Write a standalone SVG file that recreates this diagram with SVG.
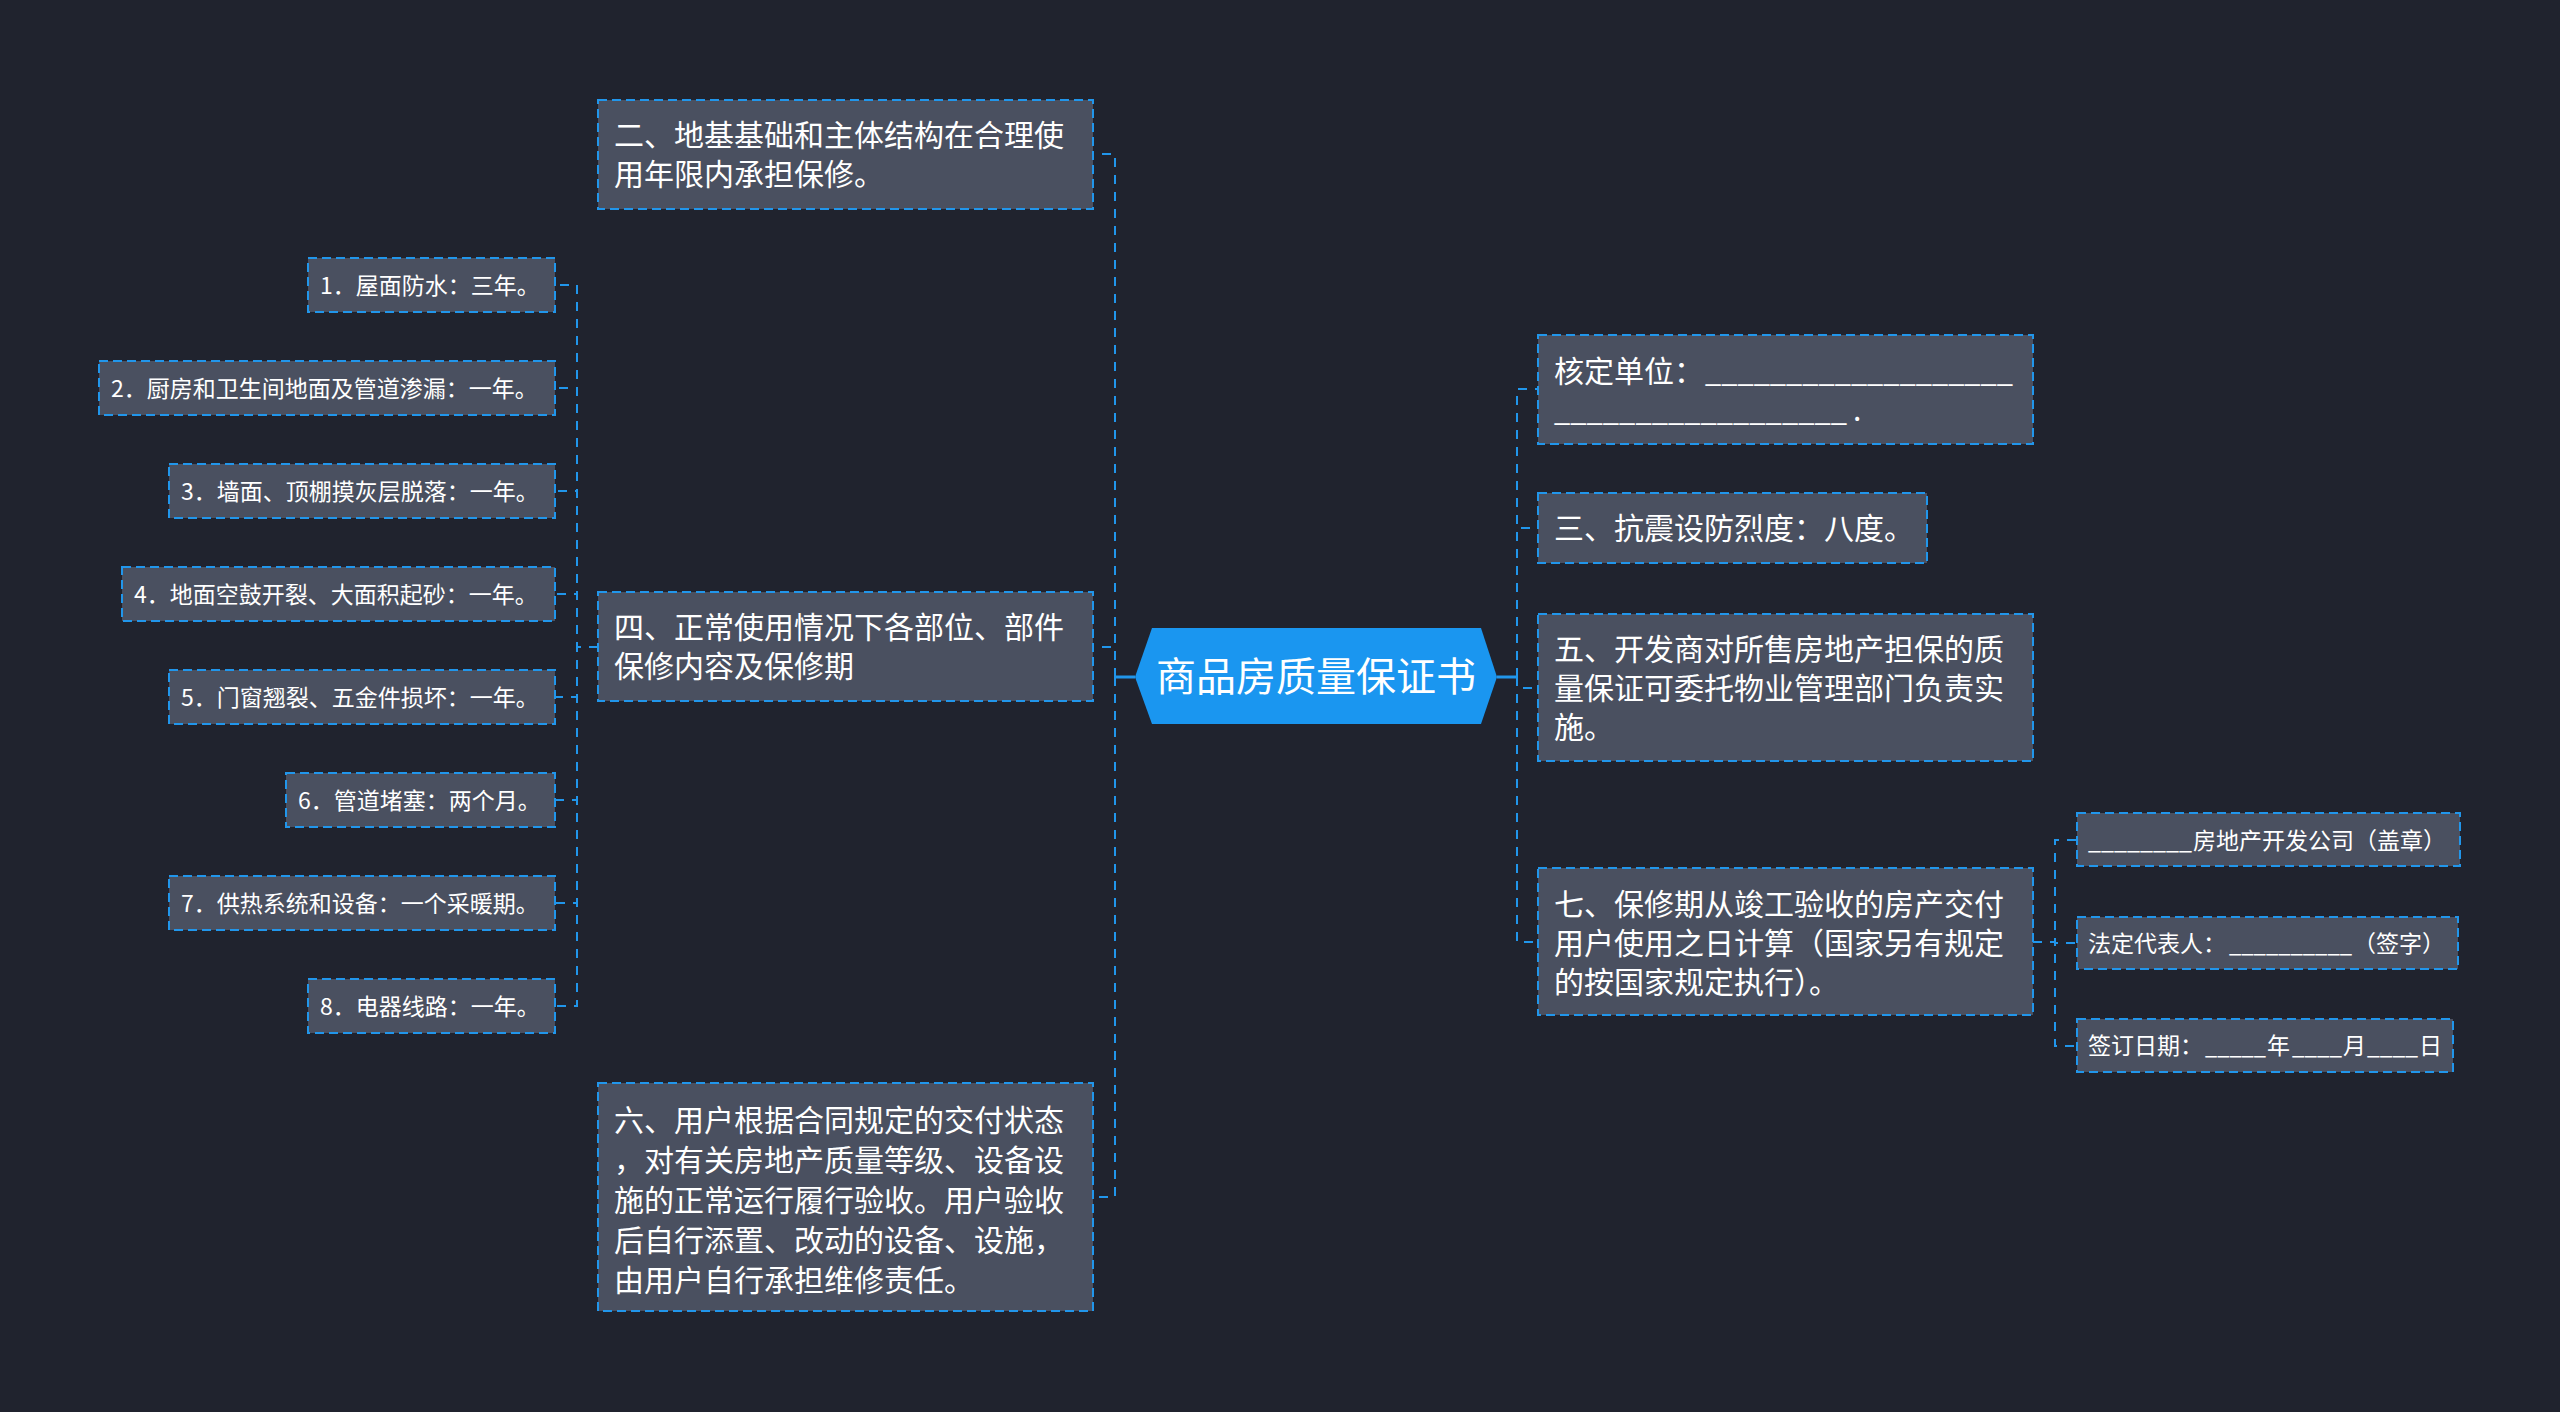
<svg xmlns="http://www.w3.org/2000/svg" width="2560" height="1412" viewBox="0 0 2560 1412">
<style>
.bg{fill:#20232e}
.box{fill:#4a5060;stroke:#2196eb;stroke-width:2;stroke-dasharray:9 5}
.t{font-family:"Noto Sans CJK SC","Noto Sans",sans-serif;fill:#ffffff}
.t30{font-size:30px}
.t23{font-size:23px}
.t40{font-size:40px}
.conn path{fill:none;stroke:#2196eb;stroke-width:2;stroke-dasharray:9 8}
.conn path.solid{stroke-dasharray:none;stroke-width:3}
</style>
<rect class="bg" x="0" y="0" width="2560" height="1412"/>

<g class="conn" id="connectors">
  <path class="solid" d="M1135 677 H1115"/>
  <path d="M1115 677 V154 H1093"/>
  <path d="M1115 677 V647 H1093"/>
  <path d="M1115 677 V1197 H1093"/>
  <path class="solid" d="M1497 677 H1517"/>
  <path d="M1517 677 V389 H1538"/>
  <path d="M1517 677 V528 H1538"/>
  <path d="M1517 677 V688 H1538"/>
  <path d="M1517 677 V942 H1538"/>
  <path d="M598 647 H577 V285 H555"/>
  <path d="M598 647 H577 V388 H555"/>
  <path d="M598 647 H577 V491 H555"/>
  <path d="M598 647 H577 V594 H555"/>
  <path d="M598 647 H577 V697 H555"/>
  <path d="M598 647 H577 V800 H555"/>
  <path d="M598 647 H577 V903 H555"/>
  <path d="M598 647 H577 V1006 H555"/>
  <path d="M2033 942 H2055 V840 H2077"/>
  <path d="M2033 942 H2055 V943 H2077"/>
  <path d="M2033 942 H2055 V1046 H2077"/>
</g>

<g id="root">
  <polygon points="1152,628 1481,628 1497,677 1481,724 1152,724 1135,677" fill="#1a96f0"/>
  <text class="t t40" x="1316" y="691" text-anchor="middle">商品房质量保证书</text>
</g>

<g id="n2">
  <rect class="box" x="598" y="100" width="495" height="109"/>
  <text class="t t30"><tspan x="614" y="146">二、地基基础和主体结构在合理使</tspan><tspan x="614" y="185">用年限内承担保修。</tspan></text>
</g>

<g id="n4">
  <rect class="box" x="598" y="592" width="495" height="109"/>
  <text class="t t30"><tspan x="614" y="638">四、正常使用情况下各部位、部件</tspan><tspan x="614" y="677">保修内容及保修期</tspan></text>
</g>

<g id="n6">
  <rect class="box" x="598" y="1083" width="495" height="228"/>
  <text class="t t30"><tspan x="614" y="1131">六、用户根据合同规定的交付状态</tspan><tspan x="614" y="1171">，对有关房地产质量等级、设备设</tspan><tspan x="614" y="1211">施的正常运行履行验收。用户验收</tspan><tspan x="614" y="1251">后自行添置、改动的设备、设施，</tspan><tspan x="614" y="1291">由用户自行承担维修责任。</tspan></text>
</g>

<g id="c1">
  <rect class="box" x="308" y="258" width="247" height="54"/>
  <text class="t t23" x="320" y="294">1．屋面防水：三年。</text>
</g>
<g id="c2">
  <rect class="box" x="99" y="361" width="456" height="54"/>
  <text class="t t23" x="111" y="397">2．厨房和卫生间地面及管道渗漏：一年。</text>
</g>
<g id="c3">
  <rect class="box" x="169" y="464" width="386" height="54"/>
  <text class="t t23" x="181" y="500">3．墙面、顶棚摸灰层脱落：一年。</text>
</g>
<g id="c4">
  <rect class="box" x="122" y="567" width="433" height="54"/>
  <text class="t t23" x="134" y="603">4．地面空鼓开裂、大面积起砂：一年。</text>
</g>
<g id="c5">
  <rect class="box" x="169" y="670" width="386" height="54"/>
  <text class="t t23" x="181" y="706">5．门窗翘裂、五金件损坏：一年。</text>
</g>
<g id="c6">
  <rect class="box" x="286" y="773" width="269" height="54"/>
  <text class="t t23" x="298" y="809">6．管道堵塞：两个月。</text>
</g>
<g id="c7">
  <rect class="box" x="169" y="876" width="386" height="54"/>
  <text class="t t23" x="181" y="912">7．供热系统和设备：一个采暖期。</text>
</g>
<g id="c8">
  <rect class="box" x="308" y="979" width="247" height="54"/>
  <text class="t t23" x="320" y="1015">8．电器线路：一年。</text>
</g>

<g id="nh">
  <rect class="box" x="1538" y="335" width="495" height="109"/>
  <text class="t t30"><tspan x="1554" y="382">核定单位：</tspan><tspan x="1705" y="382" textLength="308" lengthAdjust="spacingAndGlyphs">___________________</tspan><tspan x="1554" y="421" textLength="293" lengthAdjust="spacingAndGlyphs">__________________</tspan><tspan x="1853" y="421">.</tspan></text>
</g>

<g id="n3">
  <rect class="box" x="1538" y="493" width="389" height="70"/>
  <text class="t t30" x="1554" y="539">三、抗震设防烈度：八度。</text>
</g>

<g id="n5">
  <rect class="box" x="1538" y="614" width="495" height="147"/>
  <text class="t t30"><tspan x="1554" y="660">五、开发商对所售房地产担保的质</tspan><tspan x="1554" y="699">量保证可委托物业管理部门负责实</tspan><tspan x="1554" y="738">施。</tspan></text>
</g>

<g id="n7">
  <rect class="box" x="1538" y="868" width="495" height="147"/>
  <text class="t t30"><tspan x="1554" y="915">七、保修期从竣工验收的房产交付</tspan><tspan x="1554" y="954">用户使用之日计算（国家另有规定</tspan><tspan x="1554" y="993">的按国家规定执行）。</tspan></text>
</g>

<g id="r1">
  <rect class="box" x="2077" y="813" width="383" height="53"/>
  <text class="t t23"><tspan x="2088" y="849" textLength="104" lengthAdjust="spacingAndGlyphs">________</tspan><tspan x="2193" y="849">房地产开发公司（盖章）</tspan></text>
</g>
<g id="r2">
  <rect class="box" x="2077" y="917" width="381" height="52"/>
  <text class="t t23"><tspan x="2088" y="952">法定代表人：</tspan><tspan x="2229" y="952" textLength="123" lengthAdjust="spacingAndGlyphs">__________</tspan><tspan x="2353" y="952">（签字）</tspan></text>
</g>
<g id="r3">
  <rect class="box" x="2077" y="1019" width="376" height="53"/>
  <text class="t t23"><tspan x="2088" y="1054">签订日期：</tspan><tspan x="2205" y="1054" textLength="61" lengthAdjust="spacingAndGlyphs">_____</tspan><tspan x="2267" y="1054">年</tspan><tspan x="2292" y="1054" textLength="50" lengthAdjust="spacingAndGlyphs">____</tspan><tspan x="2343" y="1054">月</tspan><tspan x="2367" y="1054" textLength="51" lengthAdjust="spacingAndGlyphs">____</tspan><tspan x="2419" y="1054">日</tspan></text>
</g>
</svg>
